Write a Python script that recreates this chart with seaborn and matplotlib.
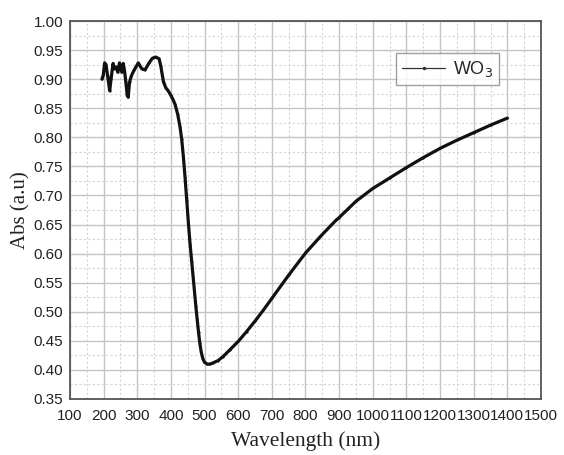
import numpy as np
import pandas as pd
import matplotlib
matplotlib.use("Agg")
import matplotlib.pyplot as plt
from matplotlib.ticker import MultipleLocator
from matplotlib.lines import Line2D
import seaborn as sns

# UV-Vis-NIR absorbance spectrum of WO3
wavelength = [195, 199, 203, 207, 212, 218, 222, 228, 232, 237, 242, 247, 251, 254,
              258, 262, 266, 270, 273, 277, 282, 290, 303, 313, 323, 335, 345, 355,
              365, 370, 378, 385, 392, 400, 407, 412, 420, 427, 432, 437, 442, 447,
              452, 457, 462, 466, 470, 474, 478, 482, 486, 490, 495, 500, 508, 516,
              525, 540, 555, 576, 600, 625, 650, 675, 700, 750, 800, 850, 890, 900,
              925, 950, 1000, 1050, 1100, 1150, 1200, 1250, 1300, 1350, 1400]
absorbance = [0.900, 0.907, 0.928, 0.925, 0.905, 0.880, 0.900, 0.927, 0.918, 0.921,
              0.912, 0.928, 0.918, 0.912, 0.927, 0.915, 0.895, 0.872, 0.869, 0.895,
              0.905, 0.915, 0.928, 0.918, 0.916, 0.928, 0.936, 0.938, 0.935, 0.922,
              0.895, 0.885, 0.880, 0.872, 0.864, 0.857, 0.840, 0.818, 0.797, 0.767,
              0.731, 0.692, 0.652, 0.616, 0.585, 0.560, 0.535, 0.510, 0.487, 0.465,
              0.446, 0.431, 0.419, 0.413, 0.410, 0.410, 0.412, 0.416, 0.423, 0.435,
              0.449, 0.466, 0.484, 0.503, 0.523, 0.563, 0.601, 0.633, 0.657, 0.662,
              0.676, 0.690, 0.712, 0.730, 0.748, 0.765, 0.781, 0.795, 0.808, 0.821,
              0.833]
series_name = "WO$_3$"

x_ticks = list(range(100, 1501, 100))
y_ticks = [round(0.35 + 0.05 * i, 2) for i in range(14)]

df = pd.DataFrame({"Wavelength": wavelength, "Abs": absorbance})

sns.set_style("white")
plt.rcParams["font.family"] = ["Liberation Sans", "DejaVu Sans"]

fig = plt.figure(figsize=(5.64, 4.55), dpi=100)
ax = fig.add_axes([0.1241, 0.1231, 0.9592 - 0.1241, 0.9538 - 0.1231])

sns.lineplot(data=df, x="Wavelength", y="Abs", ax=ax, color="#111111",
             linewidth=2.3, marker=".", markersize=3, markeredgewidth=0,
             legend=False, zorder=3)

ax.set_xlim(100, 1500)
ax.set_ylim(0.35, 1.00)
ax.set_xticks(x_ticks)
ax.set_yticks(y_ticks)
ax.set_xticklabels([str(t) for t in x_ticks])
ax.set_yticklabels([f"{t:.2f}" for t in y_ticks])
ax.xaxis.set_minor_locator(MultipleLocator(50))
ax.yaxis.set_minor_locator(MultipleLocator(0.025))

ax.grid(which="major", color="#c4c4c4", linewidth=1.0, linestyle="-", zorder=0)
ax.grid(which="minor", color="#d4d4d4", linewidth=0.8, linestyle=(0, (2, 2)), zorder=0)
ax.set_axisbelow(True)

ax.tick_params(axis="both", which="both", length=0, labelsize=11, colors="#222222")
ax.tick_params(axis="x", pad=7)
ax.tick_params(axis="y", pad=5)

for s in ax.spines.values():
    s.set_color("#555555")
    s.set_linewidth(1.3)

serif = ["Liberation Serif", "DejaVu Serif"]
ax.set_xlabel("Wavelength (nm)", fontsize=15.5, family=serif, color="#222222", labelpad=6)
ax.set_ylabel("Abs (a.u)", fontsize=15, family=serif, color="#222222", labelpad=2)

handle = Line2D([], [], color="#333333", linewidth=0.9, marker=".", markersize=3)
leg = ax.legend([handle], [series_name], loc="upper right",
                bbox_to_anchor=(0.93, 0.94), fontsize=13, handlelength=2.4,
                frameon=True, fancybox=False, borderpad=0.35, handletextpad=0.4)
leg.get_frame().set_edgecolor("#888888")
leg.get_frame().set_linewidth(1.0)

fig.savefig("out.png", dpi=100)
